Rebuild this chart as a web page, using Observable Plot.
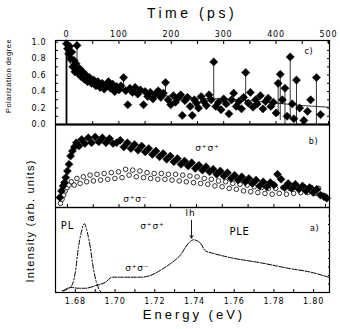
<!DOCTYPE html>
<html><head><meta charset="utf-8">
<script src="https://cdn.jsdelivr.net/npm/d3@7"></script>
<script src="https://cdn.jsdelivr.net/npm/@observablehq/plot@0.6"></script>
<style>
body{margin:0;background:#fff;}
#wrap{position:relative;width:340px;height:329px;overflow:hidden;background:#fff;font-family:"Liberation Sans",Arial,sans-serif;color:#000;}
#wrap svg{position:absolute;left:0;}
#wrap svg text{letter-spacing:0.8px;}
.lbl{position:absolute;white-space:nowrap;color:#000;line-height:1;}
</style></head><body><div id="wrap"></div>
<script>
// ---------- axis ticks ----------
const timeTicks = [0, 100, 200, 300, 400, 500];
const timeMinor = [0, 50, 100, 150, 200, 250, 300, 350, 400, 450, 500];
const polTicks = [0, 0.2, 0.4, 0.6, 0.8, 1.0];
const polMinor = [0, 0.1, 0.2, 0.3, 0.4, 0.5, 0.6, 0.7, 0.8, 0.9, 1.0];
const energyTicks = [1.68, 1.70, 1.72, 1.74, 1.76, 1.78, 1.80];
const energyMinor = [1.67, 1.68, 1.69, 1.70, 1.71, 1.72, 1.73, 1.74, 1.75, 1.76, 1.77, 1.78, 1.79, 1.80];
const bTicks = [1.676, 1.689, 1.702, 1.715, 1.728, 1.741, 1.754, 1.767, 1.780, 1.793, 1.806];
const aRightTicks = [0.1, 0.2, 0.3, 0.4, 0.5, 0.6, 0.7, 0.8, 0.9];

// ---------- panel c: polarization degree vs time ----------
const polT = [
  0,2,4,6,8,10,12,14,16,18,
  20,22,25,28,31,34,37,40,44,48,
  52,56,60,64,68,72,76,80,84,88,
  92,96,100,104,109,113,117,121,126,131,
  136,141,147,150,155,160,165,170,175,180,
  185,189,194,199,204,208,213,218,221,226,
  231,236,240,244,248,252,257,262,267,272,
  276,281,285,290,295,300,305,310,315,319,
  324,329,334,338,342,347,351,356,361,364,
  370,375,380,385,390,395,400,404,408,412,
  417,421,427,431,434,439,445,453,460,466,
  477,485];
const polP = [
  .98,.92,.86,.95,.80,.88,.70,.78,.64,.74,
  .96,.62,.68,.58,.64,.55,.60,.52,.57,.50,
  .54,.47,.52,.45,.50,.43,.48,.52,.44,.49,
  .40,.46,.42,.47,.57,.41,.24,.44,.39,.45,
  .37,.42,.24,.40,.34,.39,.31,.37,.41,.33,
  .38,.51,.30,.24,.35,.27,.32,.36,.11,.29,
  .33,.22,.11,.30,.26,.20,.34,.28,.23,.36,
  .30,.76,.22,.27,.18,.31,.25,.13,.30,.38,
  .22,.28,.19,.33,.63,.26,.39,.21,.30,.25,
  .35,.19,.28,.32,.22,.27,.14,.50,.61,.30,
  .44,.10,.82,.25,.07,.54,.20,.05,.16,.30,
  .57,.12];
// error-bar stems (time, lower end); upper end is the point itself
const stemT   = [20, 109, 189, 281, 342, 404, 408, 417, 427, 439, 477];
const stemLow = [.62, .40, .33, .28, .25, .10, .05, 0, .05, 0, 0];
// fitted decay curve
const fitT = [0, 25, 50, 100, 150, 200, 250, 300, 350, 400, 450, 500];
const fitP = [0.80, 0.60, 0.52, 0.44, 0.38, 0.34, 0.32, 0.31, 0.29, 0.26, 0.23, 0.21];

// ---------- panel b: time-integrated intensities ----------
const ePlus = [
  1.6722,1.6730,1.6738,1.6745,1.6752,1.6760,1.6768,1.6776,1.6785,1.6795,
  1.6805,1.6818,1.6832,1.6848,1.6865,1.6882,1.6900,1.6918,1.6936,1.6954,
  1.6972,1.6990,1.7008,1.7026,1.7044,1.7062,1.7080,1.7098,1.7116,1.7134,
  1.7152,1.7170,1.7188,1.7206,1.7224,1.7242,1.7260,1.7278,1.7296,1.7314,
  1.7332,1.7350,1.7368,1.7386,1.7404,1.7422,1.7440,1.7458,1.7476,1.7494,
  1.7512,1.7530,1.7548,1.7566,1.7584,1.7602,1.7620,1.7638,1.7656,1.7674,
  1.7692,1.7710,1.7728,1.7746,1.7764,1.7782,1.7800,1.7818,1.7836,1.7854,
  1.7872,1.7890,1.7908,1.7926,1.7944,1.7962,1.7980,1.7998,1.8016,1.8034,
  1.8052,1.8066];
const vPlus = [
  .12,.20,.26,.30,.36,.44,.52,.62,.68,.73,
  .78,.74,.82,.77,.84,.78,.85,.79,.84,.78,
  .83,.77,.78,.81,.73,.78,.71,.76,.69,.74,
  .67,.71,.64,.68,.61,.65,.58,.62,.55,.59,
  .52,.56,.50,.54,.47,.51,.45,.49,.43,.46,
  .40,.44,.38,.42,.35,.39,.33,.37,.31,.35,
  .29,.33,.26,.31,.25,.30,.27,.40,.34,.24,
  .29,.23,.28,.22,.26,.20,.24,.18,.22,.15,
  .13,.11];
const eMinus = [
  1.6725,1.6733,1.6741,1.6749,1.6758,1.6768,1.6780,1.6794,1.6808,1.6824,
  1.6840,1.6857,1.6874,1.6891,1.6909,1.6927,1.6945,1.6963,1.6981,1.6999,
  1.7017,1.7035,1.7053,1.7071,1.7089,1.7107,1.7125,1.7143,1.7161,1.7179,
  1.7197,1.7215,1.7233,1.7251,1.7269,1.7287,1.7305,1.7323,1.7341,1.7359,
  1.7377,1.7395,1.7413,1.7431,1.7449,1.7467,1.7485,1.7503,1.7521,1.7539,
  1.7557,1.7575,1.7593,1.7611,1.7629,1.7647,1.7665,1.7683,1.7701,1.7719,
  1.7737,1.7755,1.7773,1.7791,1.7809,1.7827,1.7845,1.7863,1.7881,1.7899,
  1.7917,1.7935,1.7953,1.7971,1.7989,1.8007,1.8025,1.8043,1.8058];
const vMinus = [
  .05,.10,.15,.20,.24,.27,.31,.27,.35,.29,
  .37,.31,.39,.32,.40,.33,.41,.34,.42,.35,
  .43,.36,.46,.39,.45,.37,.44,.36,.42,.35,
  .41,.34,.41,.34,.40,.33,.40,.32,.39,.31,
  .38,.30,.37,.29,.35,.28,.34,.26,.32,.25,
  .31,.23,.29,.22,.28,.20,.27,.19,.25,.18,
  .24,.17,.23,.16,.23,.17,.24,.16,.23,.17,
  .24,.18,.25,.18,.24,.17,.23,.15,.14];

// ---------- panel a: PL and PLE spectra ----------
const plE = [1.6734,1.6775,1.6800,1.6815,1.6830,1.6845,1.6860,1.6876,1.6891,1.6906,1.6921,1.6931];
const plV = [0.02,0.06,0.24,0.52,0.71,0.81,0.71,0.52,0.28,0.12,0.03,0.0];
const pleE = [1.6740,1.6775,1.6815,1.6850,1.6901,1.6951,1.6986,1.7027,1.7128,1.7178,1.7228,1.7279,1.7329,1.7370,1.7395,1.7430,1.7455,1.7496,1.7581,1.7732,1.7884,1.7984,1.8075];
const pleV = [0.02,0.06,0.05,0.05,0.08,0.12,0.18,0.18,0.18,0.20,0.26,0.34,0.44,0.58,0.62,0.58,0.49,0.46,0.41,0.35,0.28,0.24,0.18];

// ---------- annotations ----------
const bLabels = [{e: 1.7465, v: 0.72, t: "σ⁺σ⁺"}, {e: 1.7102, v: 0.10, t: "σ⁺σ⁻"}];
const aLabels = [
  {e: 1.6760, v: 0.78, t: "PL", fs: 10, st: "normal"},
  {e: 1.7188, v: 0.78, t: "σ⁺σ⁺", fs: 9, st: "normal"},
  {e: 1.7112, v: 0.29, t: "σ⁺σ⁻", fs: 9, st: "normal"},
  {e: 1.7627, v: 0.72, t: "PLE", fs: 10, st: "normal"},
  {e: 1.7380, v: 0.93, t: "lh", fs: 9, st: "italic"}];
const lhArrow = [{e: 1.7385, v1: 0.85, v2: 0.64}];

// ---------- build ----------
const W = 340, ML = 55, MR = 11;
const sty = {fontFamily: '"DejaVu Sans", sans-serif', fontSize: "8px", background: "transparent", color: "#000", overflow: "visible"};
const wrap = document.getElementById("wrap");

const polData = polT.map((t, i) => ({t, p: polP[i]}));
const stemData = stemT.map((t, i) => ({t, lo: stemLow[i], hi: polP[polT.indexOf(t)]}));
const fitData = fitT.map((t, i) => ({t, p: fitP[i]}));

const p1 = Plot.plot({
  width: W, height: 124, marginTop: 40, marginBottom: 0, marginLeft: ML, marginRight: MR,
  style: sty,
  x: {domain: [-21, 502]},
  y: {domain: [0, 1.02]},
  marks: [
    Plot.ruleX([0], {stroke: "#000", strokeWidth: 1.8}),
    Plot.ruleX(stemData, {x: "t", y1: "lo", y2: "hi", stroke: "#000", strokeWidth: 0.8}),
    Plot.line(fitData, {x: "t", y: "p", stroke: "#000", strokeWidth: 0.8}),
    Plot.dot(polData, {x: "t", y: "p", symbol: "diamond2", r: 3.7, fill: "#000", stroke: "#000", strokeWidth: 0.5}),
    Plot.frame({stroke: "#000", strokeWidth: 1.2}),
    Plot.ruleY([0], {stroke: "#000", strokeWidth: 1.8}),
    Plot.axisX(timeTicks, {anchor: "top", tickSize: 0, tickPadding: 4, label: null, fontSize: 8}),
    Plot.axisX(timeMinor, {anchor: "top", tickSize: -3, fill: "none", label: null}),
    Plot.axisX(timeMinor, {anchor: "bottom", tickSize: -3, fill: "none", label: null}),
    Plot.axisY(polTicks, {anchor: "left", tickSize: 0, tickPadding: 9, label: null, fontSize: 8, tickFormat: d => d.toFixed(1)}),
    Plot.axisY(polMinor, {anchor: "left", tickSize: -3, fill: "none", label: null}),
    Plot.axisY(polMinor, {anchor: "right", tickSize: -3, fill: "none", label: null}),
    Plot.text(["c)"], {text: d => d, frameAnchor: "top-right", dx: -16, dy: 8, fontSize: 8})
  ]
});
p1.style.top = "0px";
wrap.appendChild(p1);

const plusData = ePlus.map((e, i) => ({e, v: vPlus[i]}));
const minusData = eMinus.map((e, i) => ({e, v: vMinus[i]}));
const p2 = Plot.plot({
  width: W, height: 83, marginTop: 0, marginBottom: 0, marginLeft: ML, marginRight: MR,
  style: sty,
  x: {domain: [1.67, 1.808]},
  y: {domain: [0, 1], axis: null},
  marks: [
    Plot.dot(minusData, {x: "e", y: "v", r: 2.3, fill: "#fff", stroke: "#000", strokeWidth: 0.8}),
    Plot.dot(plusData, {x: "e", y: "v", symbol: "diamond2", r: 3.6, fill: "#000", stroke: "#000", strokeWidth: 0.5}),
    Plot.frame({stroke: "#000", strokeWidth: 1.2}),
    Plot.axisX(bTicks, {anchor: "bottom", tickSize: -3, fill: "none", label: null}),
    Plot.text(bLabels, {x: "e", y: "v", text: "t", fontSize: 9, fontFamily: '"DejaVu Sans", sans-serif'}),
    Plot.text(["b)"], {text: d => d, frameAnchor: "top-right", dx: -11, dy: 14, fontSize: 8})
  ]
});
p2.style.top = "124px";
wrap.appendChild(p2);

const plData = plE.map((e, i) => ({e, v: plV[i]}));
const pleData = pleE.map((e, i) => ({e, v: pleV[i]}));
const p3 = Plot.plot({
  width: W, height: 122, marginTop: 0, marginBottom: 37, marginLeft: ML, marginRight: MR,
  style: sty,
  x: {domain: [1.67, 1.808]},
  y: {domain: [0, 1], axis: null},
  marks: [
    Plot.line(plData, {x: "e", y: "v", stroke: "#000", strokeWidth: 1, strokeDasharray: "5,2,1.5,2", curve: "monotone-x"}),
    Plot.line(pleData, {x: "e", y: "v", stroke: "#000", strokeWidth: 1, strokeDasharray: "5,1.5", curve: "monotone-x"}),
    Plot.arrow(lhArrow, {x1: "e", x2: "e", y1: "v1", y2: "v2", stroke: "#000", strokeWidth: 0.9, headLength: 5}),
    Plot.frame({stroke: "#000", strokeWidth: 1.2}),
    Plot.axisX(energyTicks, {anchor: "bottom", tickSize: 0, tickPadding: 6, label: null, fontSize: 8, tickFormat: d => d.toFixed(2)}),
    Plot.axisX(energyMinor, {anchor: "bottom", tickSize: -3, fill: "none", label: null}),
    Plot.axisY(aRightTicks, {anchor: "right", tickSize: -2, fill: "none", label: null}),
    Plot.text(aLabels, {x: "e", y: "v", text: "t", fontSize: d => d.fs, fontStyle: d => d.st, fontFamily: '"DejaVu Sans", sans-serif'}),
    Plot.text(["a)"], {text: d => d, frameAnchor: "top-right", dx: -10, dy: 18, fontSize: 8})
  ]
});
p3.style.top = "207px";
wrap.appendChild(p3);

// titles and axis labels
function addLabel(txt, css) {
  const d = document.createElement("div");
  d.className = "lbl";
  d.textContent = txt;
  Object.assign(d.style, css);
  wrap.appendChild(d);
}
addLabel("Time (ps)", {left: "192px", top: "13px", fontSize: "14px", letterSpacing: "3.5px", transform: "translate(-50%,-50%)"});
addLabel("Energy (eV)", {left: "194px", top: "314px", fontSize: "13px", letterSpacing: "3px", transform: "translate(-50%,-50%)"});
addLabel("Polarization degree", {left: "9px", top: "76px", fontSize: "7.5px", letterSpacing: "0.5px", transform: "translate(-50%,-50%) rotate(-90deg)"});
addLabel("Intensity (arb. units)", {left: "30px", top: "221px", fontSize: "11px", letterSpacing: "1.2px", transform: "translate(-50%,-50%) rotate(-90deg)"});
</script></body></html>
